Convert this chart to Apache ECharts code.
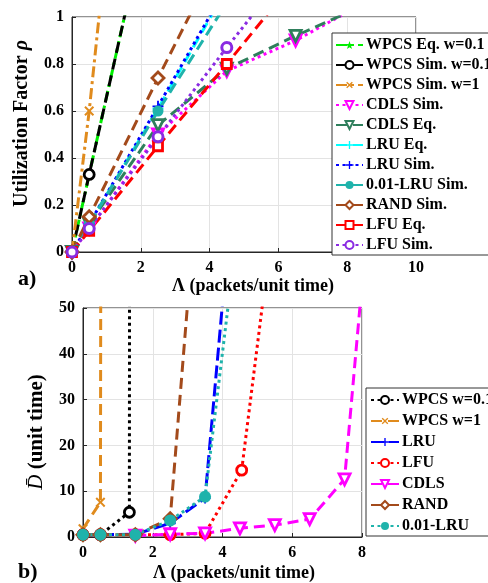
<!DOCTYPE html>
<html>
<head>
<meta charset="utf-8">
<script src="https://cdn.jsdelivr.net/npm/echarts@6/dist/echarts.min.js"></script>
<style>
html,body{margin:0;padding:0;background:#fff;}
#c{width:488px;height:583px;}
</style>
</head>
<body>
<div id="c"></div>
<script>
// ---------- Top panel (a): utilization factor ----------
const topXTicks = [0, 2, 4, 6, 8, 10];
const topYTicks = [0, 0.2, 0.4, 0.6, 0.8, 1];

const wpcsEq01X = [0, 0.5, 2.5];
const wpcsEq01Y = [0, 0.33, 1.64];
const wpcsSim01X = [0, 0.5, 2.5];
const wpcsSim01Y = [0, 0.33, 1.64];
const wpcsSim1X = [0, 0.5, 1.0];
const wpcsSim1Y = [0, 0.6, 1.3];
const cdlsSimX = [0, 0.5, 2.5, 4.5, 6.5, 8.5];
const cdlsSimY = [0, 0.1, 0.5, 0.77, 0.9, 1.06];
const cdlsEqX = [0, 0.5, 2.5, 4.5, 6.5, 8.5];
const cdlsEqY = [0, 0.12, 0.54, 0.78, 0.92, 1.05];
const lruEqX = [0, 0.5, 2.5, 4.5];
const lruEqY = [0, 0.12, 0.61, 1.12];
const lruSimX = [0, 0.5, 2.5, 4.5];
const lruSimY = [0, 0.12, 0.62, 1.13];
const lru001SimX = [0, 0.5, 2.5, 4.5];
const lru001SimY = [0, 0.12, 0.6, 1.06];
const randSimX = [0, 0.5, 2.5, 4.5];
const randSimY = [0, 0.15, 0.74, 1.32];
const lfuEqX = [0, 0.5, 2.5, 4.5, 6.5];
const lfuEqY = [0, 0.09, 0.45, 0.8, 1.16];
const lfuSimX = [0, 0.5, 2.5, 4.5, 6.5];
const lfuSimY = [0, 0.1, 0.49, 0.87, 1.24];

// ---------- Bottom panel (b): delay ----------
const botXTicks = [0, 2, 4, 6, 8];
const botYTicks = [0, 10, 20, 30, 40, 50];

const dWpcs01X = [0, 0.5, 1.33, 1.34];
const dWpcs01Y = [0.5, 0.5, 5.4, 120];
const dWpcs1X = [0, 0.5, 0.52];
const dWpcs1Y = [1.8, 7.6, 120];
const dLruX = [0, 0.5, 1.5, 2.5, 3.5, 4.0];
const dLruY = [0.5, 0.5, 0.6, 3.0, 8.5, 51];
const dLfuX = [0, 0.5, 1.5, 2.5, 3.5, 4.55, 5.15];
const dLfuY = [0.5, 0.5, 0.5, 0.5, 0.8, 14.6, 51];
const dCdlsX = [1.5, 2.5, 3.5, 4.5, 5.5, 6.5, 7.5, 7.95];
const dCdlsY = [0.3, 0.6, 0.8, 1.9, 2.6, 3.9, 12.6, 51];
const dRandX = [0, 0.5, 1.5, 2.5, 3.0];
const dRandY = [0.5, 0.5, 0.5, 4.0, 51];
const dLru001X = [0, 0.5, 1.5, 2.5, 3.5, 4.17];
const dLru001Y = [0.5, 0.5, 0.5, 3.6, 8.8, 51];

const FONT = "'Liberation Serif', 'Times New Roman', serif";
const DASH = [11, 6];
const DOT = [3, 3.5];
const DASHDOT = [11, 4, 3, 4];
const PLUS = 'path://M-1,-6L1,-6L1,-1L6,-1L6,1L1,1L1,6L-1,6L-1,1L-6,1L-6,-1L-1,-1Z';
const STAR = 'path://M0,-10L2.35,-3.24L9.51,-3.09L3.8,1.24L5.88,8.09L0,4L-5.88,8.09L-3.8,1.24L-9.51,-3.09L-2.35,-3.24Z';

function pts(xs, ys) { return xs.map((x, i) => [x, ys[i]]); }

function mk(name, xs, ys, color, type, symbol, opt, gi) {
  opt = opt || {};
  const hollow = opt.hollow !== false;
  return {
    name: name,
    type: 'line',
    xAxisIndex: gi, yAxisIndex: gi,
    data: pts(xs, ys),
    symbol: symbol,
    symbolSize: opt.size || 10,
    symbolRotate: opt.rotate || 0,
    showAllSymbol: true,
    clip: true,
    lineStyle: { color: color, width: opt.width || 3, type: type },
    itemStyle: hollow
      ? { color: '#fff', borderColor: color, borderWidth: opt.bw || 2.8 }
      : { color: color, borderColor: color, borderWidth: 0 },
    emphasis: { disabled: true },
    z: 2
  };
}

const C = {
  green: '#00ee00', black: '#000000', orange: '#e08b1d', magenta: '#ff00ff',
  dgreen: '#2f7f5c', cyan: '#00ffff', blue: '#0000ff', teal: '#1fb3ab',
  brown: '#a34a1b', red: '#ff0000', purple: '#8a2be2'
};

const topSeries = [
  mk('WPCS Eq. w=0.1', wpcsEq01X, wpcsEq01Y, C.green, DASHDOT, STAR, {hollow:false, size:9}, 0),
  mk('WPCS Sim. w=0.1', wpcsSim01X, wpcsSim01Y, C.black, DASH, 'circle', {size:10}, 0),
  mk('WPCS Sim. w=1', wpcsSim1X, wpcsSim1Y, C.orange, DASHDOT, PLUS, {hollow:false, rotate:45, size:12}, 0),
  mk('CDLS Sim.', cdlsSimX, cdlsSimY, C.magenta, DOT, 'triangle', {rotate:180, size:11}, 0),
  mk('CDLS Eq.', cdlsEqX, cdlsEqY, C.dgreen, DASH, 'triangle', {rotate:180, size:11}, 0),
  mk('LRU Eq.', lruEqX, lruEqY, C.cyan, DASH, PLUS, {hollow:false, size:11}, 0),
  mk('LRU Sim.', lruSimX, lruSimY, C.blue, DOT, PLUS, {hollow:false, size:11}, 0),
  mk('0.01-LRU Sim.', lru001SimX, lru001SimY, C.teal, DASH, 'circle', {hollow:false, size:11}, 0),
  mk('RAND Sim.', randSimX, randSimY, C.brown, DASH, 'diamond', {size:12}, 0),
  mk('LFU Eq.', lfuEqX, lfuEqY, C.red, DASH, 'rect', {size:9}, 0),
  mk('LFU Sim.', lfuSimX, lfuSimY, C.purple, DOT, 'circle', {size:10, bw:3}, 0)
];

const botSeries = [
  mk('WPCS w=0.1', dWpcs01X, dWpcs01Y, C.black, DOT, 'circle', {size:10}, 1),
  mk('WPCS w=1', dWpcs1X, dWpcs1Y, C.orange, DASH, PLUS, {hollow:false, rotate:45, size:12}, 1),
  mk('LRU', dLruX, dLruY, C.blue, [13, 5], PLUS, {hollow:false, size:11}, 1),
  mk('LFU', dLfuX, dLfuY, C.red, DOT, 'circle', {size:10}, 1),
  mk('CDLS', dCdlsX, dCdlsY, C.magenta, DASH, 'triangle', {rotate:180, size:11}, 1),
  mk('RAND', dRandX, dRandY, C.brown, DASH, 'diamond', {size:12}, 1),
  mk('0.01-LRU', dLru001X, dLru001Y, C.teal, DOT, 'circle', {hollow:false, size:12}, 1)
];

const axisCommon = {
  type: 'value',
  axisLine: { show: true, lineStyle: { color: '#262626', width: 1 } },
  axisTick: { show: true, inside: true, length: 4, lineStyle: { color: '#262626' } },
  splitLine: { show: true, lineStyle: { color: '#e3e3e3', width: 1 } },
  axisLabel: { color: '#000', fontFamily: FONT, fontWeight: 'bold', fontSize: 16, margin: 8 },
  nameTextStyle: { color: '#000', fontFamily: FONT, fontWeight: 'bold', fontSize: 18 }
};

function legendCfg(names, left, top, gap, iw, pad) {
  return {
    data: names,
    orient: 'vertical',
    left: left, top: top,
    itemWidth: iw, itemHeight: 10,
    itemGap: gap,
    padding: pad,
    backgroundColor: '#fff',
    borderColor: '#333', borderWidth: 1,
    selectedMode: false,
    textStyle: { color: '#000', fontFamily: FONT, fontWeight: 'bold', fontSize: 16, lineHeight: 18, padding: [0, 0, 0, -2] },
    z: 10
  };
}

const option = {
  animation: false,
  backgroundColor: '#fff',
  grid: [
    { left: 72, top: 17, width: 344, height: 235, show: true, borderColor: '#262626', borderWidth: 1, backgroundColor: 'transparent' },
    { left: 83, top: 308, width: 279, height: 229, show: true, borderColor: '#262626', borderWidth: 1, backgroundColor: 'transparent' }
  ],
  xAxis: [
    Object.assign({}, axisCommon, {
      gridIndex: 0, min: topXTicks[0], max: topXTicks[topXTicks.length - 1], interval: 2,
      name: 'Λ (packets/unit time)', nameLocation: 'middle', nameGap: 22,
      nameTextStyle: Object.assign({}, axisCommon.nameTextStyle, { padding: [0, 0, 0, 18] })
    }),
    Object.assign({}, axisCommon, {
      gridIndex: 1, min: botXTicks[0], max: botXTicks[botXTicks.length - 1], interval: 2,
      name: 'Λ (packets/unit time)', nameLocation: 'middle', nameGap: 27,
      nameTextStyle: Object.assign({}, axisCommon.nameTextStyle, { padding: [0, 0, 0, 23] })
    })
  ],
  yAxis: [
    Object.assign({}, axisCommon, {
      gridIndex: 0, min: topYTicks[0], max: topYTicks[topYTicks.length - 1], interval: 0.2,
      name: '{b|Utilization Factor }{i|ρ}', nameLocation: 'middle', nameGap: 40,
      nameTextStyle: {
        padding: [0, 0, 0, 22],
        rich: {
          b: { fontFamily: FONT, fontWeight: 'bold', fontSize: 20, color: '#000' },
          i: { fontFamily: FONT, fontStyle: 'italic', fontWeight: 'bold', fontSize: 20, color: '#000' }
        }
      }
    }),
    Object.assign({}, axisCommon, {
      gridIndex: 1, min: botYTicks[0], max: botYTicks[botYTicks.length - 1], interval: 10,
      name: '{i|D\u0304}{b| (unit time)}', nameLocation: 'middle', nameGap: 36,
      nameTextStyle: {
        padding: [0, 19, 0, 0],
        rich: {
          b: { fontFamily: FONT, fontWeight: 'bold', fontSize: 21, color: '#000' },
          i: { fontFamily: FONT, fontStyle: 'italic', fontSize: 21, color: '#000' }
        }
      }
    })
  ],
  legend: [
    legendCfg(topSeries.map(s => s.name), 332, 33, 2, 27, [3, 10, 1, 3]),
    legendCfg(botSeries.map(s => s.name), 366, 388, 3, 28, [3, 10, 1, 4])
  ],
  graphic: [
    { type: 'text', left: 18, top: 268, style: { text: 'a)', font: "bold 22px 'Liberation Serif', serif", fill: '#000' } },
    { type: 'text', left: 18, top: 561, style: { text: 'b)', font: "bold 22px 'Liberation Serif', serif", fill: '#000' } }
  ],
  series: topSeries.concat(botSeries)
};

const chart = echarts.init(document.getElementById('c'), null, { renderer: 'canvas' });
chart.setOption(option);
</script>
</body>
</html>
